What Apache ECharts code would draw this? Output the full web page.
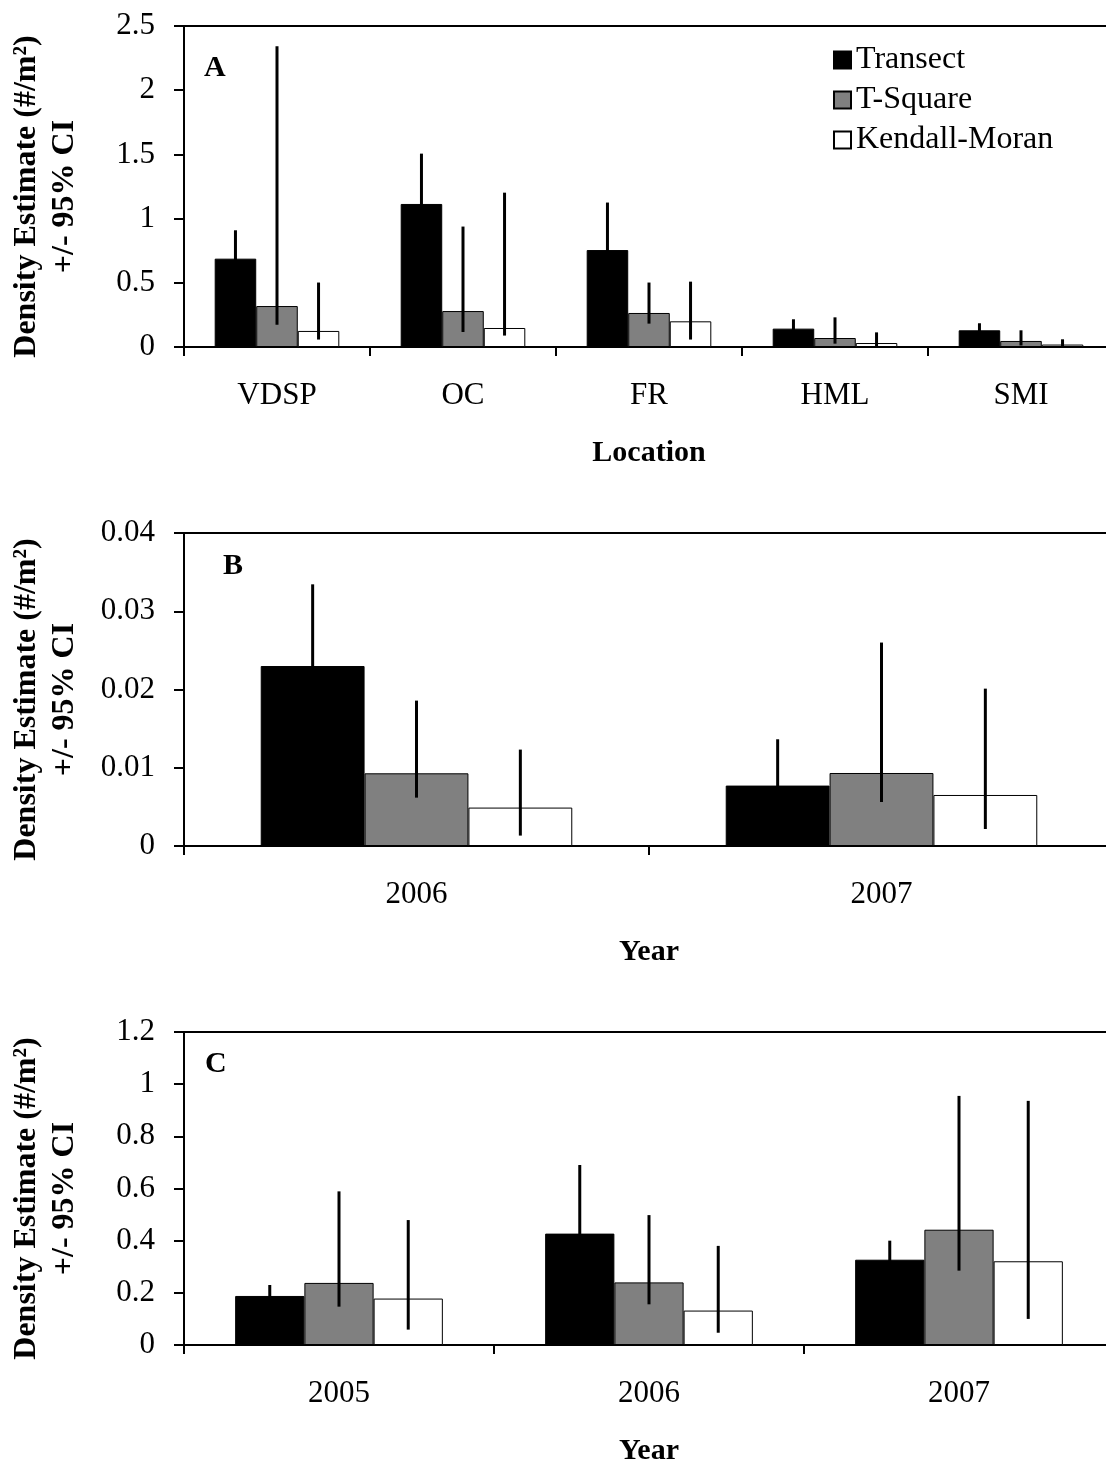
<!DOCTYPE html>
<html>
<head>
<meta charset="utf-8">
<script src="https://cdn.jsdelivr.net/npm/echarts@6/dist/echarts.min.js"></script>
<style>
  html, body { margin: 0; padding: 0; background: #fff; }
  #chart { width: 1106px; height: 1464px; }
</style>
</head>
<body>
<div id="chart"></div>
<script>
// ---- Panel A: density by location ----
const locationsA = ['VDSP', 'OC', 'FR', 'HML', 'SMI'];
const transectA = [0.688, 1.114, 0.755, 0.143, 0.130];
const transectA_lo = [0.47, 0.72, 0.39, 0.07, 0.08];
const transectA_hi = [0.909, 1.506, 1.125, 0.216, 0.185];
const tsquareA = [0.319, 0.280, 0.265, 0.070, 0.047];
const tsquareA_lo = [0.174, 0.117, 0.182, 0.026, 0.012];
const tsquareA_hi = [2.342, 0.938, 0.502, 0.231, 0.130];
const kendallA = [0.125, 0.148, 0.200, 0.031, 0.019];
const kendallA_lo = [0.058, 0.089, 0.058, 0.005, 0.002];
const kendallA_hi = [0.502, 1.202, 0.509, 0.114, 0.060];

// ---- Panel B: density by year ----
const yearsB = ['2006', '2007'];
const transectB = [0.0230, 0.00772];
const transectB_lo = [0.0125, 0.0018];
const transectB_hi = [0.03344, 0.01364];
const tsquareB = [0.00929, 0.00933];
const tsquareB_lo = [0.00618, 0.00562];
const tsquareB_hi = [0.01858, 0.0260];
const kendallB = [0.00491, 0.00652];
const kendallB_lo = [0.00133, 0.00217];
const kendallB_hi = [0.01232, 0.02011];

// ---- Panel C: density by year ----
const yearsC = ['2005', '2006', '2007'];
const transectC = [0.188, 0.427, 0.327];
const transectC_lo = [0.15, 0.16, 0.25];
const transectC_hi = [0.230, 0.690, 0.400];
const tsquareC = [0.238, 0.240, 0.442];
const tsquareC_lo = [0.147, 0.156, 0.285];
const tsquareC_hi = [0.589, 0.498, 0.955];
const kendallC = [0.178, 0.132, 0.321];
const kendallC_lo = [0.059, 0.047, 0.100];
const kendallC_hi = [0.479, 0.380, 0.936];

const methodNames = ['Transect', 'T-Square', 'Kendall-Moran'];
const methodColors = ['#000000', '#808080', '#ffffff'];

const FONT = "'Liberation Serif', 'Times New Roman', serif";
const CAT_GAP = 0.33;

const panels = [
  { letter: 'A', cats: locationsA, xName: 'Location', yMax: 2.5, yInterval: 0.5, top: 26, height: 321,
    vals: [transectA, tsquareA, kendallA], lo: [transectA_lo, tsquareA_lo, kendallA_lo], hi: [transectA_hi, tsquareA_hi, kendallA_hi],
    letterPos: [204, 70] },
  { letter: 'B', cats: yearsB, xName: 'Year', yMax: 0.04, yInterval: 0.01, top: 533, height: 313,
    vals: [transectB, tsquareB, kendallB], lo: [transectB_lo, tsquareB_lo, kendallB_lo], hi: [transectB_hi, tsquareB_hi, kendallB_hi],
    letterPos: [223, 568] },
  { letter: 'C', cats: yearsC, xName: 'Year', yMax: 1.2, yInterval: 0.2, top: 1032, height: 313,
    vals: [transectC, tsquareC, kendallC], lo: [transectC_lo, tsquareC_lo, kendallC_lo], hi: [transectC_hi, tsquareC_hi, kendallC_hi],
    letterPos: [205, 1066] }
];

const grid = [], xAxis = [], yAxis = [], series = [], graphic = [];

panels.forEach((p, gi) => {
  grid.push({
    left: 184, width: 930, top: p.top, height: p.height,
    outerBoundsMode: 'none', containLabel: false,
    show: true, borderColor: '#000', borderWidth: 2, backgroundColor: 'transparent'
  });
  xAxis.push({
    type: 'category', gridIndex: gi, data: p.cats,
    name: p.xName, nameLocation: 'middle', nameGap: 91,
    nameTextStyle: { fontFamily: FONT, fontSize: 30, fontWeight: 'bold', color: '#000' },
    axisLine: { show: false },
    axisTick: { show: true, inside: false, length: 9, lineStyle: { color: '#000', width: 2 } },
    axisLabel: { fontFamily: FONT, fontSize: 31, color: '#000', margin: 33 },
    splitLine: { show: false }
  });
  yAxis.push({
    type: 'value', gridIndex: gi, min: 0, max: p.yMax, interval: p.yInterval,
    name: 'Density Estimate (#/m²)\n+/- 95% CI', nameLocation: 'middle', nameGap: 100,
    nameTextStyle: { fontFamily: FONT, fontSize: 32, fontWeight: 'bold', color: '#000', lineHeight: 38, align: 'center', padding: [0, 20, 0, 0] },
    axisLine: { show: false },
    axisTick: { show: true, inside: false, length: 10, lineStyle: { color: '#000', width: 2 } },
    axisLabel: { fontFamily: FONT, fontSize: 31, color: '#000', margin: 29 },
    splitLine: { show: false }
  });
  p.vals.forEach((v, k) => {
    series.push({
      type: 'bar', name: methodNames[k], xAxisIndex: gi, yAxisIndex: gi, data: v,
      barGap: '0%', barCategoryGap: (CAT_GAP * 100) + '%',
      itemStyle: { color: methodColors[k], borderColor: '#000', borderWidth: 1 },
      emphasis: { disabled: true }
    });
  });
  // confidence intervals: [category, low, high, method]
  const ci = [];
  p.cats.forEach((c, i) => {
    for (let k = 0; k < 3; k++) ci.push([i, p.lo[k][i], p.hi[k][i], k]);
  });
  series.push({
    type: 'custom', xAxisIndex: gi, yAxisIndex: gi, data: ci, z: 10,
    encode: { x: 0, y: [1, 2] },
    renderItem: function (params, api) {
      const cat = api.value(0);
      const k = api.value(3);
      const band = api.size([1, 0])[0];
      const barW = band * (1 - CAT_GAP) / 3;
      const off = (k - 1) * barW;
      const lo = api.coord([cat, api.value(1)]);
      const hi = api.coord([cat, api.value(2)]);
      return {
        type: 'line',
        shape: { x1: lo[0] + off, y1: lo[1], x2: hi[0] + off, y2: hi[1] },
        style: { stroke: '#000', lineWidth: 3 }
      };
    }
  });
  graphic.push({
    type: 'text', left: p.letterPos[0], top: p.letterPos[1] - 17,
    style: { text: p.letter, fontFamily: FONT, fontSize: 30, fontWeight: 'bold', fill: '#000' }
  });
});

const chart = echarts.init(document.getElementById('chart'), null, { renderer: 'canvas' });
chart.setOption({
  backgroundColor: '#fff',
  animation: false,
  grid, xAxis, yAxis, series, graphic,
  legend: {
    data: methodNames, orient: 'vertical', left: 833, top: 40, padding: 0,
    itemWidth: 17, itemHeight: 17, itemGap: 0,
    icon: 'rect',
    textStyle: { fontFamily: FONT, fontSize: 32, color: '#000', lineHeight: 40 },
    selectedMode: false
  }
});
</script>
</body>
</html>
